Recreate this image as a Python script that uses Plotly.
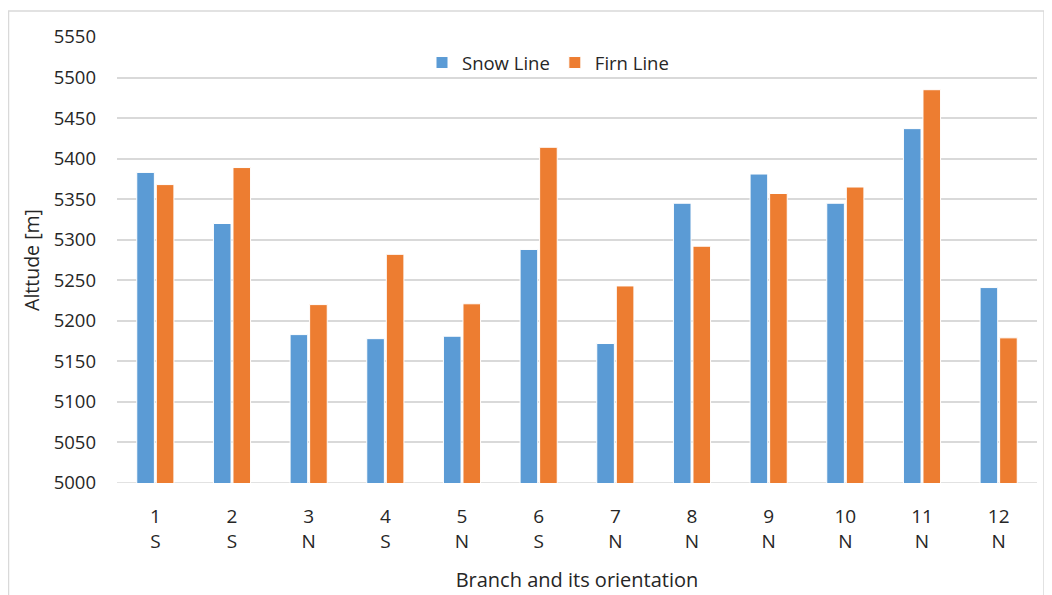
import plotly.graph_objects as go

branches = ["1", "2", "3", "4", "5", "6", "7", "8", "9", "10", "11", "12"]
orientation = ["S", "S", "N", "S", "N", "S", "N", "N", "N", "N", "N", "N"]
snow_line = [5383, 5320, 5183, 5178, 5181, 5288, 5172, 5345, 5381, 5345, 5437, 5241]
firn_line = [5368, 5389, 5220, 5282, 5221, 5414, 5243, 5292, 5357, 5365, 5485, 5179]

cats = [f"{b}<br>{o}" for b, o in zip(branches, orientation)]

FONT = "Open Sans"
OFF = 8  # page body margin
W, H = 1044, 587
L, T = 117 - OFF, 37 - OFF
pw, ph = 920, 446
R, B = W - L - pw, H - T - ph

fig = go.Figure()
fig.add_bar(x=cats, y=snow_line, name="Snow Line",
            marker=dict(color="#5B9BD5", line=dict(color="white", width=1)))
fig.add_bar(x=cats, y=firn_line, name="Firn Line",
            marker=dict(color="#ED7D31", line=dict(color="white", width=1)))

def px2paper_x(px):
    return (px - OFF - L) / pw

def px2paper_y(py):
    return 1 - (py - OFF - T) / ph

fig.update_layout(
    width=W, height=H,
    margin=dict(l=L, r=R, t=T, b=B, autoexpand=False),
    paper_bgcolor="white", plot_bgcolor="white",
    font=dict(family=FONT, size=18.5, color="#262626"),
    barmode="group", bargap=0.49, bargroupgap=0.1,
    showlegend=True,
    legend=dict(orientation="h", x=px2paper_x(548), xanchor="center", y=px2paper_y(63), yanchor="middle",
                font=dict(size=18.5, color="#262626"), bgcolor="rgba(0,0,0,0)",
                itemwidth=30, traceorder="normal"),
    xaxis=dict(showgrid=False, showline=False, ticks="", tickfont=dict(size=19),
               title=dict(text="Branch and its orientation", font=dict(size=20), standoff=20),
               ticklabelstandoff=20),
    yaxis=dict(range=[5000, 5550], dtick=50, showgrid=True, gridcolor="#d9d9d9", gridwidth=1.5,
               zeroline=False, showline=False, ticks="", tickfont=dict(size=18.5),
               title=dict(text="Alttude [m]", font=dict(size=19.5), standoff=8),
               ticklabelstandoff=20),
    shapes=[
        dict(type="line", xref="paper", yref="y", x0=0, x1=1, y0=5000, y1=5000,
             line=dict(color="#d9d9d9", width=1.5), layer="below"),
        dict(type="rect", xref="paper", yref="paper",
             x0=px2paper_x(8.5), x1=px2paper_x(1044), y0=px2paper_y(605), y1=px2paper_y(11),
             line=dict(color="#d9d9d9", width=1.5), fillcolor="rgba(0,0,0,0)", layer="below"),
    ],
)

fig.write_html("out.html")
